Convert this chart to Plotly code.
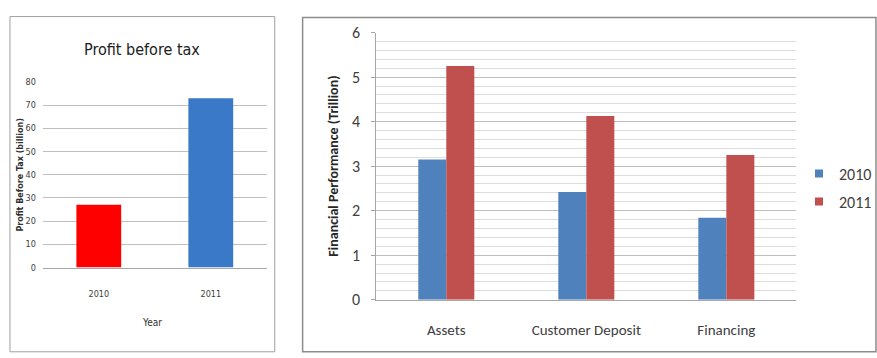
import plotly.graph_objects as go

# Left chart data
years = ["2010", "2011"]
profit = [27, 73]
profit_colors = ["#FF0000", "#3A78C8"]

# Right chart data
categories = ["Assets", "Customer Deposit", "Financing"]
series_names = ["2010", "2011"]
series_colors = ["#4F81BD", "#C0504D"]
perf_2010 = [3.15, 2.42, 1.84]
perf_2011 = [5.25, 4.13, 3.25]

W, H = 877, 358

def px(x):
    return x / W

def py(y):
    return 1 - y / H

fig = go.Figure()

fig.add_trace(go.Bar(
    x=years, y=profit, marker=dict(color=profit_colors, line=dict(width=0)),
    showlegend=False, xaxis="x", yaxis="y", hoverinfo="x+y"))

for name, vals, col in zip(series_names, [perf_2010, perf_2011], series_colors):
    fig.add_trace(go.Bar(
        x=categories, y=vals, name=name, marker=dict(color=col, line=dict(width=0)),
        xaxis="x2", yaxis="y2", legendgroup=name, showlegend=False))
    # legend entry with a small square swatch
    fig.add_trace(go.Scatter(
        x=[None], y=[None], mode="markers", name=name, legendgroup=name,
        marker=dict(symbol="square", size=8, color=col),
        xaxis="x2", yaxis="y2", showlegend=True))

narrow = "DejaVu Sans Condensed, Liberation Sans Narrow, Roboto Condensed, sans-serif"
cal = "Carlito, Lato, Open Sans, sans-serif"

fig.update_layout(
    width=W, height=H,
    margin=dict(l=0, r=0, t=0, b=0),
    paper_bgcolor="white", plot_bgcolor="white",
    barmode="group",
    bargap=0.6, bargroupgap=0,
    showlegend=True,
    legend=dict(x=px(803), y=py(156), xanchor="left", yanchor="top",
                font=dict(family=cal, size=16, color="#404040"),
                tracegroupgap=4, itemwidth=30, bgcolor="rgba(0,0,0,0)"),
    xaxis=dict(domain=[px(43), px(268)], anchor="y",
               showline=True, linecolor="#A6A6A6", linewidth=1,
               showgrid=False, ticks="",
               tickfont=dict(family=narrow, size=9, color="#404040"),
               ticklabelstandoff=18, fixedrange=True),
    yaxis=dict(domain=[py(273), py(77)], anchor="x",
               range=[0, 80], dtick=10,
               showgrid=True, gridcolor="#BFBFBF", gridwidth=1,
               showline=False, zeroline=False, ticks="",
               tickfont=dict(family=narrow, size=9, color="#404040"),
               ticklabelstandoff=6, fixedrange=True),
    xaxis2=dict(domain=[px(378), px(800)], anchor="y2",
                showline=True, linecolor="#A6A6A6", linewidth=1,
                showgrid=False, ticks="",
                tickfont=dict(family=cal, size=15, color="#404040"),
                ticklabelstandoff=16, fixedrange=True),
    yaxis2=dict(domain=[py(307), py(25)], anchor="x2",
                range=[0, 6], dtick=1,
                showgrid=True, gridcolor="#BFBFBF", gridwidth=1,
                minor=dict(dtick=0.2, showgrid=True, gridcolor="#DDDDDD", gridwidth=1,
                           ticks=""),
                showline=True, linecolor="#A6A6A6", linewidth=1,
                zeroline=False, ticks="outside", ticklen=4, tickcolor="#A6A6A6",
                tickfont=dict(family=cal, size=16, color="#404040"),
                ticklabelstandoff=8, fixedrange=True),
    shapes=[
        dict(type="rect", xref="paper", yref="paper",
             x0=px(10), x1=px(276), y0=py(362), y1=py(8),
             line=dict(color="#A0A0A0", width=1), fillcolor="rgba(0,0,0,0)", layer="below"),
        dict(type="rect", xref="paper", yref="paper",
             x0=px(304), x1=px(880), y0=py(362), y1=py(9),
             line=dict(color="#8C8C8C", width=1.5), fillcolor="rgba(0,0,0,0)", layer="below"),
    ],
    annotations=[
        dict(text="Profit before tax", x=px(143), y=py(43), xref="paper", yref="paper",
             showarrow=False, xanchor="center", yanchor="middle",
             font=dict(family=narrow, size=16, color="#202020")),
        dict(text="Year", x=px(153), y=py(331), xref="paper", yref="paper",
             showarrow=False, xanchor="center", yanchor="middle",
             font=dict(family=narrow, size=10, color="#303030")),
        dict(text="<b>Profit Before Tax (billion)</b>", x=px(21), y=py(175), xref="paper", yref="paper",
             showarrow=False, xanchor="center", yanchor="middle", textangle=-90,
             font=dict(family="DejaVu Sans, sans-serif", size=8, color="#303030")),
        dict(text="<b>Financial Performance (Trillion)</b>", x=px(335), y=py(166), xref="paper", yref="paper",
             showarrow=False, xanchor="center", yanchor="middle", textangle=-90,
             font=dict(family=cal, size=14, color="#262626")),
    ],
)

fig.write_html("out.html")
